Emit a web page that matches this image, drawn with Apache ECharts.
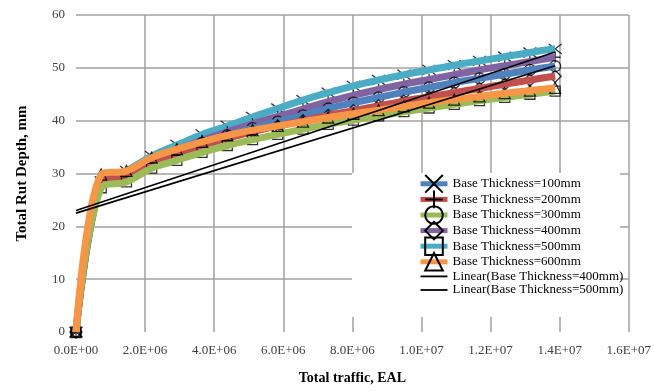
<!DOCTYPE html>
<html>
<head>
<meta charset="utf-8">
<script src="https://cdn.jsdelivr.net/npm/echarts@6/dist/echarts.min.js"></script>
<style>
  html, body { margin: 0; padding: 0; background: #fff; }
  #chart { width: 654px; height: 392px; }
</style>
</head>
<body>
<div id="chart"></div>
<script>
// Cumulative traffic (EAL) at each evaluation step
const traffic = [0, 730000, 1460000, 2190000, 2920000, 3650000, 4380000, 5110000, 5840000, 6570000,
  7300000, 8030000, 8760000, 9490000, 10220000, 10950000, 11680000, 12410000, 13140000, 13870000];

// Rut depth curves (mm), one per base thickness
const line100 = [0, 28.3, 29.6, 32.3, 34.1, 35.8, 37.2, 38.6, 39.8, 41.0, 42.3, 43.4, 44.4, 45.4, 46.3, 47.2, 48.0, 48.8, 49.6, 50.3];
const line200 = [0, 28.0, 29.4, 32.0, 33.8, 35.3, 36.7, 37.9, 39.0, 40.0, 41.0, 41.9, 42.8, 43.7, 44.5, 45.3, 46.1, 46.9, 47.7, 48.4];
const line300 = [0, 27.3, 28.4, 31.0, 32.5, 34.0, 35.3, 36.4, 37.4, 38.4, 39.3, 40.1, 40.9, 41.7, 42.4, 43.1, 43.8, 44.4, 45.0, 45.6];
const line400 = [0, 28.5, 29.8, 32.6, 34.5, 36.3, 37.9, 39.4, 40.8, 42.2, 43.6, 44.8, 45.9, 46.9, 47.8, 48.7, 49.6, 50.4, 51.2, 52.0];
const line500 = [0, 28.5, 30.5, 33.3, 35.4, 37.4, 39.0, 40.7, 42.3, 43.9, 45.3, 46.6, 47.7, 48.7, 49.6, 50.5, 51.3, 52.1, 52.9, 53.6];
const line600 = [0, 29.8, 30.5, 33.0, 34.6, 36.0, 37.2, 38.2, 39.0, 39.8, 40.6, 41.3, 42.0, 42.7, 43.4, 44.0, 44.6, 45.2, 45.7, 46.2];

// Point markers (mm) for each base thickness
const mark100 = [0, 28.5, 30.5, 33.3, 35.4, 37.4, 39.0, 40.7, 42.3, 43.9, 45.3, 46.6, 47.7, 48.7, 49.6, 50.5, 51.3, 52.1, 52.9, 53.6];
const mark200 = [0, 28.5, 29.8, 32.6, 34.5, 36.3, 37.9, 39.4, 40.8, 42.2, 43.6, 44.8, 45.9, 46.9, 47.8, 48.7, 49.6, 50.4, 51.2, 52.0];
const mark300 = [0, 28.3, 29.6, 32.3, 34.1, 35.8, 37.2, 38.6, 39.8, 41.0, 42.3, 43.4, 44.4, 45.4, 46.3, 47.2, 48.0, 48.8, 49.6, 50.3];
const mark400 = [0, 28.0, 29.4, 32.0, 33.8, 35.3, 36.7, 37.9, 39.0, 40.0, 41.0, 41.9, 42.8, 43.7, 44.5, 45.3, 46.1, 46.9, 47.7, 48.4];
const mark500 = [0, 27.3, 28.4, 31.0, 32.5, 34.0, 35.3, 36.4, 37.4, 38.4, 39.3, 40.1, 40.9, 41.7, 42.4, 43.1, 43.8, 44.4, 45.0, 45.6];
const mark600 = [0, 29.8, 30.5, 33.0, 34.6, 36.0, 37.2, 38.2, 39.0, 39.8, 40.6, 41.3, 42.0, 42.7, 43.4, 44.0, 44.6, 45.2, 45.7, 46.2];

// Linear trend lines (start and end of traffic range)
const trendX = [0, 13870000];
const trend400 = [22.5, 50.4];
const trend500 = [23.0, 53.0];

const xTicks = { min: 0, max: 16000000, step: 2000000 };
const yTicks = { min: 0, max: 60, step: 10 };

const FONT = 'Liberation Serif';
const COLORS = { b100: '#4F81BD', b200: '#C0504D', b300: '#9BBB59', b400: '#8064A2', b500: '#4BACC6', b600: '#F79646' };
const SYM = {
  x: 'path://M0,0L22,14M22,0L0,14',
  plus: 'path://M11,0L11,22M0,11L22,11',
  circle: 'circle',
  diamond: 'diamond',
  square: 'rect',
  triangle: 'triangle'
};

function sci(v) {
  if (v === 0) return '0.0E+00';
  const e = Math.floor(Math.log10(v) + 1e-9);
  const m = v / Math.pow(10, e);
  return m.toFixed(1) + 'E+' + String(e).padStart(2, '0');
}
const pairs = (xs, ys) => xs.map((x, i) => [x, ys[i]]);

const curves = [
  { name: 'Base Thickness=100mm', vals: line100, color: COLORS.b100, sym: SYM.x, z: 7 },
  { name: 'Base Thickness=200mm', vals: line200, color: COLORS.b200, sym: SYM.plus, z: 9 },
  { name: 'Base Thickness=300mm', vals: line300, color: COLORS.b300, sym: SYM.circle, z: 11 },
  { name: 'Base Thickness=400mm', vals: line400, color: COLORS.b400, sym: SYM.diamond, z: 5 },
  { name: 'Base Thickness=500mm', vals: line500, color: COLORS.b500, sym: SYM.square, z: 3 },
  { name: 'Base Thickness=600mm', vals: line600, color: COLORS.b600, sym: SYM.triangle, z: 13 }
];
const marks = [
  { id: 'm100', vals: mark100, sym: SYM.x, size: [13, 10], z: 2 },
  { id: 'm200', vals: mark200, sym: SYM.plus, size: 11, z: 4 },
  { id: 'm300', vals: mark300, sym: SYM.circle, size: 11, z: 6 },
  { id: 'm400', vals: mark400, sym: SYM.diamond, size: 12, z: 8 },
  { id: 'm500', vals: mark500, sym: SYM.square, size: 10, z: 10 },
  { id: 'm600', vals: mark600, sym: SYM.triangle, size: 11, z: 12 }
];
const trends = [
  { name: 'Linear(Base Thickness=400mm)', vals: trend400 },
  { name: 'Linear(Base Thickness=500mm)', vals: trend500 }
];

const series = [];
curves.forEach(c => series.push({
  type: 'line', name: c.name, data: pairs(traffic, c.vals),
  symbol: c.sym, showSymbol: false, smooth: 0.35,
  lineStyle: { color: c.color, width: 7 },
  itemStyle: { color: 'transparent', borderColor: '#000', borderWidth: 1.3 },
  z: c.z, silent: true, emphasis: { disabled: true }
}));
marks.forEach(m => series.push({
  type: 'scatter', name: m.id, data: pairs(traffic, m.vals),
  symbol: m.sym, symbolSize: m.size,
  itemStyle: { color: 'transparent', borderColor: '#000', borderWidth: 1.3 },
  z: m.z, silent: true, emphasis: { disabled: true }
}));
trends.forEach(t => series.push({
  type: 'line', name: t.name, data: pairs(trendX, t.vals),
  symbol: 'none', smooth: false,
  lineStyle: { color: '#000', width: 1.6 },
  itemStyle: { color: 'transparent', borderColor: 'transparent', borderWidth: 0 },
  z: 14, silent: true, emphasis: { disabled: true }
}));

const legendData = curves.map(c => ({ name: c.name, lineStyle: { width: 5 } }))
  .concat(trends.map(t => ({ name: t.name, lineStyle: { width: 1.8 } })));

const chart = echarts.init(document.getElementById('chart'), null, { renderer: 'canvas' });
chart.setOption({
  animation: false,
  backgroundColor: '#fff',
  grid: { left: 76, right: 24, top: 15, bottom: 60 },
  xAxis: {
    type: 'value', min: xTicks.min, max: xTicks.max, interval: xTicks.step,
    axisLine: { show: false }, axisTick: { show: false },
    axisLabel: { formatter: sci, color: '#404040', fontFamily: FONT, fontSize: 13, margin: 12 },
    splitLine: { show: true, showMinLine: false, lineStyle: { color: '#a0a0a0', width: 1.5 } },
    name: 'Total traffic, EAL', nameLocation: 'middle', nameGap: 39,
    nameTextStyle: { fontFamily: FONT, fontSize: 14, fontWeight: 'bold', color: '#000' }
  },
  yAxis: {
    type: 'value', min: yTicks.min, max: yTicks.max, interval: yTicks.step,
    axisLine: { show: false }, axisTick: { show: false },
    axisLabel: { color: '#404040', fontFamily: FONT, fontSize: 13, margin: 11 },
    splitLine: { show: true, showMinLine: false, lineStyle: { color: '#a0a0a0', width: 1.5 } },
    name: 'Total Rut Depth, mm', nameLocation: 'middle', nameGap: 46,
    nameTextStyle: { fontFamily: FONT, fontSize: 15, fontWeight: 'bold', color: '#000' }
  },
  // white panel behind the legend, hiding the grid lines there
  graphic: [{
    type: 'rect', left: 352, top: 173, z: 15, silent: true,
    shape: { width: 268, height: 144 }, style: { fill: '#fff' }
  }],
  legend: {
    orient: 'vertical', left: 418, top: 174,
    padding: 0,
    itemWidth: 27, itemHeight: 22, itemGap: -4,
    selectedMode: false, z: 20,
    textStyle: { fontFamily: FONT, fontSize: 13, color: '#000' },
    data: legendData
  },
  series: series
});
</script>
</body>
</html>
